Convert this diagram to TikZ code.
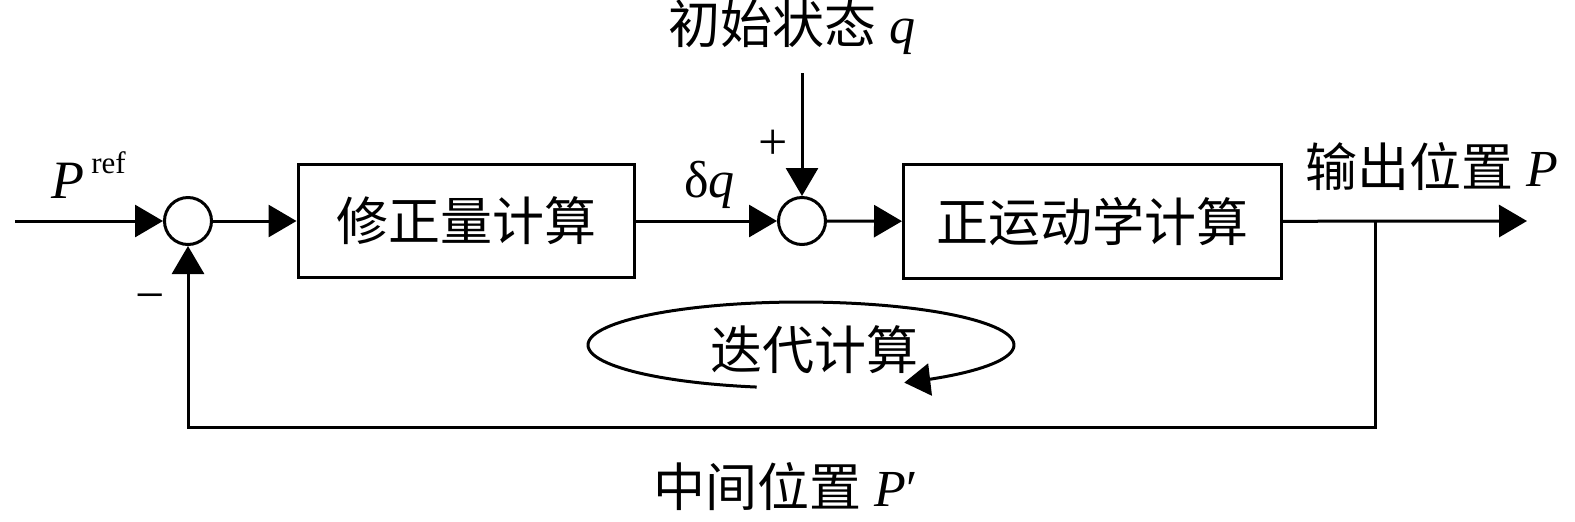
\documentclass[tikz,border=0pt]{standalone}
\usepackage{fontspec}
\setmainfont{Liberation Serif}
\newfontfamily\cjk{Noto Sans CJK SC}
\usetikzlibrary{arrows.meta}
\tikzset{
  wire/.style={line width=1.5pt},
  arr/.style={wire,-{Triangle[length=14pt,width=16pt]}},
  sumnode/.style={draw,circle,line width=1.5pt,minimum size=23.5pt,inner sep=0pt},
  blk/.style={draw,rectangle,line width=1.5pt,inner sep=0pt,font=\fontsize{26}{30}\selectfont\cjk},
  lbl/.style={inner sep=0pt,font=\fontsize{26}{30}\selectfont},
}
\begin{document}
\begin{tikzpicture}[x=0.5pt,y=-0.5pt]
\useasboundingbox (0,0) rectangle (1575,521);
% nodes
\node[sumnode] (s1) at (188,221) {};
\node[blk,minimum width=168pt,minimum height=56.5pt] (b1) at (466,221) {修正量计算};
\node[sumnode] (s2) at (802,221) {};
\node[blk,minimum width=189pt,minimum height=57pt] (b2) at (1092.5,221.5) {正运动学计算};
\coordinate (in) at (15,221);
\coordinate (out) at (1527,221);
\coordinate (br) at (1375,221);
\coordinate (top) at (802,73);
\coordinate (fb) at (188,427);
% connectors
\draw[arr] (in) -- (s1);
\draw[arr] (s1) -- (b1);
\draw[arr] (b1) -- (s2);
\draw[arr] (top) -- (s2);
\draw[arr] (s2) -- (b2);
\draw[arr] (b2) -- (out);
\draw[arr] (br) -- (br |- fb) -- (fb) -- (s1);
% iteration loop
\draw[wire,-{Triangle[length=13pt,width=16pt]}] plot[domain=102:421,samples=120] ({801+213*cos(\x)},{345+43*sin(\x)});
% labels
\node[lbl,anchor=base west] (pref) at (51,198) {\fontsize{27}{30}\selectfont\textit{P}\hspace{3.5pt}\raisebox{12.5pt}{\fontsize{15.5}{16}\selectfont ref}};
\node[lbl] (minus) at (150,303) {−};
\node[lbl] (plus) at (773,145) {+};
\node[lbl,anchor=base west] (dq) at (684,197) {δ\textit{q}};
\node[lbl,anchor=base west] (init) at (668,43) {{\cjk 初始状态} \textit{q}};
\node[lbl,anchor=base west] (outp) at (1305,186) {{\cjk 输出位置} \textit{P}};
\node[lbl,anchor=base west] (iter) at (710,369) {\cjk 迭代计算};
\node[lbl,anchor=base west] (mid) at (653,506) {{\cjk 中间位置} \textit{P}′};
\end{tikzpicture}
\end{document}
